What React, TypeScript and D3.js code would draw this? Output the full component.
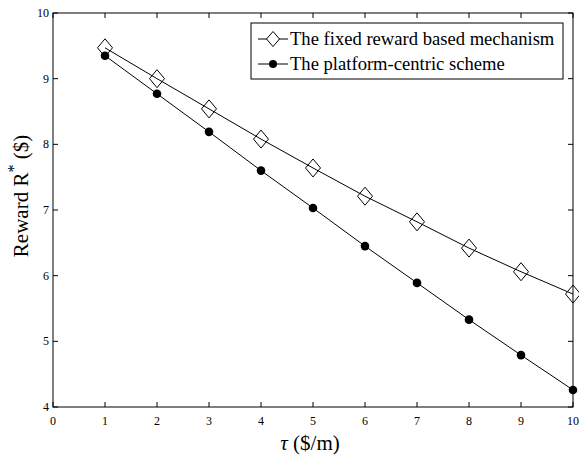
import React from "react";
import * as d3 from "d3";

const xValues = [1, 2, 3, 4, 5, 6, 7, 8, 9, 10];
const fixedReward = [9.47, 9.0, 8.54, 8.08, 7.64, 7.21, 6.82, 6.42, 6.06, 5.72];
const platformCentric = [9.35, 8.77, 8.19, 7.6, 7.03, 6.45, 5.89, 5.33, 4.79, 4.26];
const xTicks = [0, 1, 2, 3, 4, 5, 6, 7, 8, 9, 10];
const yTicks = [4, 5, 6, 7, 8, 9, 10];
const seriesNames = ["The fixed reward based mechanism", "The platform-centric scheme"];

const W = 579, H = 457;
const L = 53, R = 573, T = 13, B = 407;
const FONT = "Liberation Serif, Times New Roman, serif";

export default function App() {
  const x = d3.scaleLinear().domain([0, 10]).range([L, R]);
  const y = d3.scaleLinear().domain([4, 10]).range([B, T]);
  const line = d3.line<number>().x((_, i) => x(xValues[i])).y((d) => y(d));
  const diamond = (cx: number, cy: number, w = 7.5, h = 9) =>
    `M${cx},${cy - h}L${cx + w},${cy}L${cx},${cy + h}L${cx - w},${cy}Z`;
  const tl = 5;
  return (
    <svg width={W} height={H} style={{ position: "absolute", left: 0, top: 0, background: "#fff" }}>
      <rect x={0} y={0} width={W} height={H} fill="#fff" />
      <rect x={L} y={T} width={R - L} height={B - T} fill="none" stroke="#000" strokeWidth={1} />
      {xTicks.map((t) => (
        <g key={"x" + t}>
          <line x1={x(t)} x2={x(t)} y1={B} y2={B - tl} stroke="#000" />
          <line x1={x(t)} x2={x(t)} y1={T} y2={T + tl} stroke="#000" />
          <text x={x(t)} y={B + 18} textAnchor="middle" fontFamily={FONT} fontSize={12}>{t}</text>
        </g>
      ))}
      {yTicks.map((t) => (
        <g key={"y" + t}>
          <line x1={L} x2={L + tl} y1={y(t)} y2={y(t)} stroke="#000" />
          <line x1={R} x2={R - tl} y1={y(t)} y2={y(t)} stroke="#000" />
          <text x={L - 4} y={y(t) + 4} textAnchor="end" fontFamily={FONT} fontSize={12}>{t}</text>
        </g>
      ))}
      <path d={line(fixedReward) || ""} fill="none" stroke="#000" strokeWidth={1} />
      <path d={line(platformCentric) || ""} fill="none" stroke="#000" strokeWidth={1} />
      {fixedReward.map((v, i) => (
        <path key={"d" + i} d={diamond(x(xValues[i]), y(v))} fill="none" stroke="#000" strokeWidth={1} />
      ))}
      {platformCentric.map((v, i) => (
        <circle key={"c" + i} cx={x(xValues[i])} cy={y(v)} r={4.3} fill="#000" />
      ))}
      <rect x={251} y={23} width={312} height={56} fill="#fff" stroke="#000" strokeWidth={1} />
      <line x1={258} x2={288} y1={39} y2={39} stroke="#000" />
      <path d={diamond(273, 39, 6.5, 7.5)} fill="#fff" stroke="#000" />
      <text x={290} y={45} fontFamily={FONT} fontSize={18.6}>{seriesNames[0]}</text>
      <line x1={258} x2={288} y1={64} y2={64} stroke="#000" />
      <circle cx={273} cy={64} r={4} fill="#000" />
      <text x={290} y={70} fontFamily={FONT} fontSize={18.6}>{seriesNames[1]}</text>
      <text x={310} y={450} textAnchor="middle" fontFamily={FONT} fontSize={21}>
        <tspan fontStyle="italic">τ</tspan> ($/m)
      </text>
      <text transform={`translate(28,196) rotate(-90)`} textAnchor="middle" fontFamily={FONT} fontSize={21}>
        Reward R<tspan dy={-9} fontSize={16}>*</tspan><tspan dy={9}> ($)</tspan>
      </text>
    </svg>
  );
}
